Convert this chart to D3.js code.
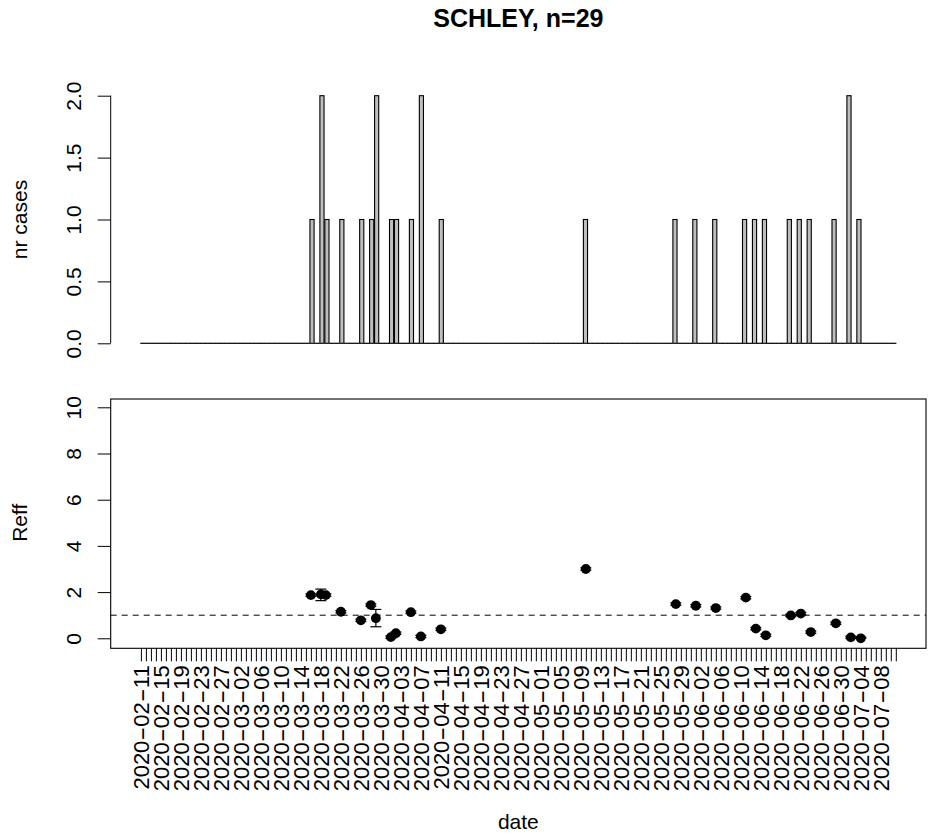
<!DOCTYPE html>
<html>
<head>
<meta charset="utf-8">
<script src="https://cdn.jsdelivr.net/npm/d3@7"></script>
<style>
  html, body { margin: 0; padding: 0; background: #fff; }
  svg { display: block; }
  text { font-family: "Liberation Sans", Arial, Helvetica, sans-serif; fill: #000; }
</style>
</head>
<body>
<svg id="chart" width="931" height="840"></svg>
<script>
// ---------------- data ----------------
const chartTitle = "SCHLEY, n=29";
const startDate = "2020-02-11";
const endDate = "2020-07-11";           // last day on the axis (inclusive)
const labelEvery = 4;                   // every 4th date carries a label

const caseDates = ["2020-03-16","2020-03-18","2020-03-19","2020-03-22","2020-03-26","2020-03-28",
  "2020-03-29","2020-04-01","2020-04-02","2020-04-05","2020-04-07","2020-04-11","2020-05-10",
  "2020-05-28","2020-06-01","2020-06-05","2020-06-11","2020-06-13","2020-06-15","2020-06-20",
  "2020-06-22","2020-06-24","2020-06-29","2020-07-02","2020-07-04"];
const caseCounts = [1,2,1,1,1,1,2,1,1,1,2,1,1,1,1,1,1,1,1,1,1,1,1,2,1];

const reffValues = [1.87,1.90,1.87,1.15,0.78,1.44,0.87,0.05,0.22,1.13,0.08,0.39,3.00,
  1.48,1.41,1.31,1.76,0.42,0.13,0.99,1.07,0.27,0.65,0.04,0.00];
const reffLower = [1.82,1.63,1.82,1.10,0.73,1.39,0.50,0.00,0.17,1.08,0.03,0.34,2.95,
  1.43,1.36,1.26,1.71,0.37,0.08,0.94,1.02,0.22,0.60,0.00,0.00];
const reffUpper = [1.92,2.13,1.92,1.20,0.83,1.49,1.25,0.10,0.27,1.18,0.13,0.44,3.05,
  1.53,1.46,1.36,1.81,0.47,0.18,1.04,1.12,0.32,0.70,0.09,0.05];

const topTicks = [0, 0.5, 1.0, 1.5, 2.0];
const bottomTicks = [0, 2, 4, 6, 8, 10];
const reffThreshold = 1;

// ---------------- derived ----------------
const parse = d3.utcParse("%Y-%m-%d");
const fmt = d3.utcFormat("%Y-%m-%d");
const allDays = d3.utcDay.range(parse(startDate), d3.utcDay.offset(parse(endDate), 1)).map(fmt);
const countByDate = new Map(caseDates.map((d, i) => [d, caseCounts[i]]));
const dayIndex = new Map(allDays.map((d, i) => [d, i]));
const nDays = allDays.length;

// ---------------- layout ----------------
const svg = d3.select("#chart");
const font = 21;
const plotL = 110.7, plotR = 926;

// title
svg.append("text").attr("x", (plotL + plotR) / 2).attr("y", 27)
  .attr("text-anchor", "middle").attr("font-size", 25).attr("font-weight", "bold")
  .text(chartTitle);

// ---------- top panel: bar chart ----------
// R barplot geometry: bar width 1, space 0.2, 4% axis extension
const space = 0.2;
const barLeft = i => space + i * (1 + space);
const xMin = barLeft(0), xMax = barLeft(nDays - 1) + 1;
const ext = (xMax - xMin) * 0.04;
const xTop = d3.scaleLinear().domain([xMin - ext, xMax + ext]).range([plotL, plotR]);
const yTop = d3.scaleLinear().domain([0, 2]).range([343.3, 95.7]);

const gTop = svg.append("g");
allDays.forEach((d, i) => {
  const c = countByDate.get(d) || 0;
  const x0 = xTop(barLeft(i)), x1 = xTop(barLeft(i) + 1);
  if (c > 0) {
    gTop.append("rect").attr("x", x0).attr("y", yTop(c))
      .attr("width", x1 - x0).attr("height", yTop(0) - yTop(c))
      .attr("fill", "#bebebe").attr("stroke", "#000").attr("stroke-width", 1.1);
  } else {
    gTop.append("line").attr("x1", x0).attr("x2", x1)
      .attr("y1", yTop(0)).attr("y2", yTop(0))
      .attr("stroke", "#000").attr("stroke-width", 1.2).attr("stroke-linecap", "square");
  }
});

const yAxisTop = d3.axisLeft(yTop).tickValues(topTicks).tickSize(13).tickFormat(d3.format(".1f"));
const gYT = svg.append("g").attr("transform", `translate(${plotL},0)`).call(yAxisTop);
gYT.select(".domain").attr("d", `M0,${yTop(2)}V${yTop(0)}`).attr("stroke", "#000");
gYT.selectAll(".tick line").attr("stroke", "#000");
gYT.selectAll(".tick text")
  .attr("font-size", font)
  .attr("x", null).attr("dy", null)
  .attr("transform", "translate(-30,0) rotate(-90)")
  .attr("text-anchor", "middle").attr("y", 0);
gYT.attr("font-family", null).attr("font-size", null);

svg.append("text").attr("transform", `translate(27,${(yTop(0) + yTop(2)) / 2}) rotate(-90)`)
  .attr("text-anchor", "middle").attr("font-size", font).text("nr cases");

// ---------- bottom panel: Reff ----------
const boxTop = 399, boxBottom = 648.3;
const dExt = (nDays - 1) * 0.04;
const xBot = d3.scaleLinear().domain([-dExt, nDays - 1 + dExt]).range([plotL, plotR]);
const yBot = d3.scaleLinear().domain([0, 10]).range([638.3, 407.3]);

svg.append("rect").attr("x", plotL).attr("y", boxTop)
  .attr("width", plotR - plotL).attr("height", boxBottom - boxTop)
  .attr("fill", "none").attr("stroke", "#000").attr("stroke-width", 1.1);

// dashed threshold
svg.append("line").attr("x1", plotL).attr("x2", plotR)
  .attr("y1", yBot(reffThreshold)).attr("y2", yBot(reffThreshold))
  .attr("stroke", "#000").attr("stroke-width", 1).attr("stroke-dasharray", "6,5");

// y axis
const yAxisBot = d3.axisLeft(yBot).tickValues(bottomTicks).tickSize(13).tickFormat(d3.format("d"));
const gYB = svg.append("g").attr("transform", `translate(${plotL},0)`).call(yAxisBot);
gYB.select(".domain").remove();
gYB.selectAll(".tick line").attr("stroke", "#000");
gYB.selectAll(".tick text")
  .attr("font-size", font).attr("x", null).attr("dy", null)
  .attr("transform", "translate(-30,0) rotate(-90)")
  .attr("text-anchor", "middle").attr("y", 0);
gYB.attr("font-family", null).attr("font-size", null);

svg.append("text").attr("transform", `translate(27,${(yBot(0) + yBot(10)) / 2}) rotate(-90)`)
  .attr("text-anchor", "middle").attr("font-size", font).text("Reff");

// x axis (one tick per day, labels every 4th day)
const xAxisBot = d3.axisBottom(xBot).tickValues(d3.range(nDays)).tickSize(13)
  .tickFormat(i => (i % labelEvery === 0 ? allDays[i] : ""));
const gXB = svg.append("g").attr("transform", `translate(0,${boxBottom})`).call(xAxisBot);
gXB.select(".domain").remove();
gXB.selectAll(".tick line").attr("stroke", "#000");
gXB.selectAll(".tick text").each(function (i) {
  const t = d3.select(this);
  const label = i % labelEvery === 0 ? allDays[i] : "";
  t.text(null)
    .attr("font-size", 22).attr("x", null).attr("y", null).attr("dy", null)
    .attr("transform", "translate(8,17) rotate(-90)")
    .attr("text-anchor", "end");
  if (!label) return;
  // R renders the hyphens as wide minus glyphs: stretch them
  label.split("-").forEach((part, j) => {
    if (j > 0) t.append("tspan").attr("textLength", 14)
      .attr("lengthAdjust", "spacingAndGlyphs").text("-");
    t.append("tspan").text(part);
  });
});
gXB.attr("font-family", null).attr("font-size", null);

svg.append("text").attr("x", (plotL + plotR) / 2).attr("y", 829)
  .attr("text-anchor", "middle").attr("font-size", font).text("date");

// error bars + points
const gPts = svg.append("g");
caseDates.forEach((d, k) => {
  const x = xBot(dayIndex.get(d));
  const lo = yBot(reffLower[k]), hi = yBot(reffUpper[k]);
  gPts.append("line").attr("x1", x).attr("x2", x).attr("y1", lo).attr("y2", hi)
    .attr("stroke", "#000").attr("stroke-width", 1.2);
  [lo, hi].forEach(yy => gPts.append("line").attr("x1", x - 5.5).attr("x2", x + 5.5)
    .attr("y1", yy).attr("y2", yy).attr("stroke", "#000").attr("stroke-width", 1.2));
  gPts.append("circle").attr("cx", x).attr("cy", yBot(reffValues[k])).attr("r", 4.9)
    .attr("fill", "#000");
});
</script>
</body>
</html>
